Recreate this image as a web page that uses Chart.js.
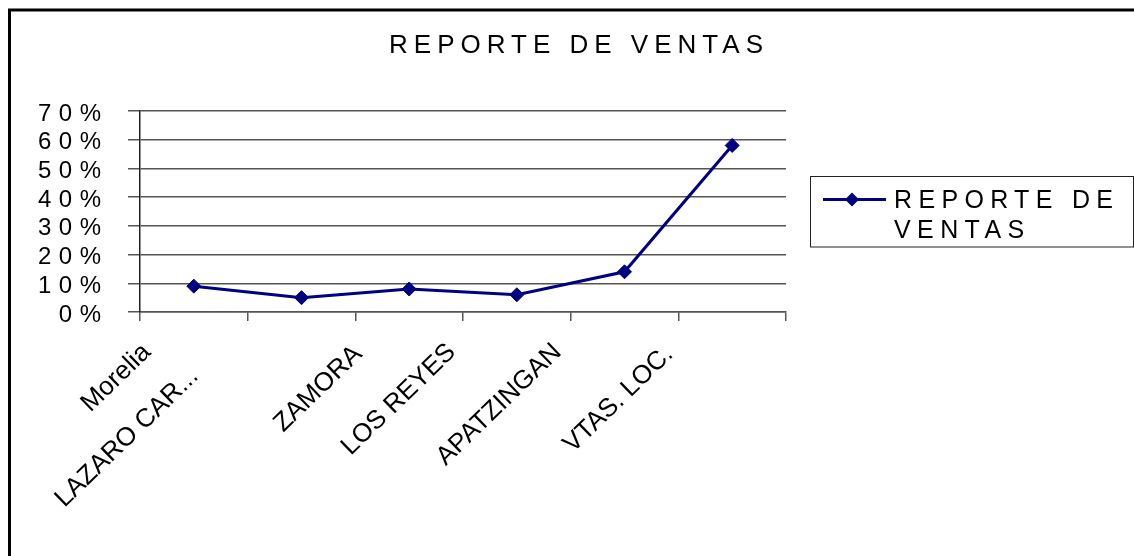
<!DOCTYPE html>
<html>
<head>
<meta charset="utf-8">
<script src="https://cdn.jsdelivr.net/npm/chart.js@4.4.1/dist/chart.umd.min.js"></script>
<style>
  html, body { margin: 0; padding: 0; background: #fff; }
  #wrap { position: relative; width: 1134px; height: 556px; }
</style>
</head>
<body>
<div id="wrap"><canvas id="chart" width="1134" height="556"></canvas></div>
<script>
const chartTitle = "REPORTE DE VENTAS";
const seriesName = "REPORTE DE VENTAS";
const categories = ["Morelia", "LAZARO CAR...", "ZAMORA", "LOS REYES", "APATZINGAN", "VTAS. LOC."];
const sales = [0.09, 0.05, 0.08, 0.06, 0.14, 0.58];
const yMax = 0.7;
const yStep = 0.1;

const FONT = '"Liberation Sans", Arial, sans-serif';
const NAVY = "#000080";

// Excel staggered the category labels a bit; nudge each one from its tick centre
const labelNudge = [[-56, 0], [-116, 24], [-60, 2], [-74, 0], [-76, 0], [-72, 2]];

function spacedText(ctx, text, x, y, width) {

  ctx.letterSpacing = "0px";
  const plain = ctx.measureText(text).width;
  const spacing = (width - plain) / (text.length - 1);
  ctx.letterSpacing = spacing + "px";
  ctx.fillText(text, x, y);
  ctx.letterSpacing = "0px";
}

const decorations = {
  id: "excel-decorations",
  beforeDraw(chart) {

    const ctx = chart.ctx;
    ctx.save();
    ctx.strokeStyle = "#000";
    ctx.lineWidth = 3;
    ctx.strokeRect(9.5, 10, 1200, 600);
    ctx.restore();
    // y tick labels are spaced out like the original
    ctx.letterSpacing = "7.5px";
  },
  afterDraw(chart) {

    const ctx = chart.ctx;
    const x = chart.scales.x;
    ctx.save();
    ctx.fillStyle = "#000";

    // title
    ctx.font = "26px " + FONT;
    ctx.textAlign = "left";
    ctx.textBaseline = "alphabetic";
    spacedText(ctx, chartTitle, 389, 53, 374);

    // category labels
    ctx.font = "26px " + FONT;
    ctx.textAlign = "right";
    ctx.textBaseline = "top";
    categories.forEach((label, i) => {
      const px = x.getPixelForValue(i);
      const [dx, dy] = labelNudge[i];
      ctx.save();
      ctx.translate(px + dx, 339 + dy);
      ctx.rotate(-44 * Math.PI / 180);
      ctx.fillText(label, 0, 0);
      ctx.restore();
    });

    // legend
    ctx.strokeStyle = "#222";
    ctx.lineWidth = 1;
    ctx.strokeRect(810.5, 176.5, 323, 70.5);
    ctx.strokeStyle = NAVY;
    ctx.lineWidth = 3;
    ctx.beginPath();
    ctx.moveTo(823, 199.5);
    ctx.lineTo(886, 199.5);
    ctx.stroke();
    ctx.fillStyle = NAVY;
    Chart.helpers.drawPoint(ctx, { pointStyle: "rectRot", radius: 7, rotation: 0, borderWidth: 0 }, 852, 199.5);
    ctx.fillStyle = "#000";
    ctx.font = "25px " + FONT;
    ctx.textAlign = "left";
    ctx.textBaseline = "alphabetic";
    const words = seriesName.split(" ");
    const first = words.slice(0, -1).join(" ");
    const last = words[words.length - 1];
    spacedText(ctx, first, 894, 208, 219);
    ctx.letterSpacing = "6.4px";
    ctx.fillText(last, 894, 238);
    ctx.letterSpacing = "0px";

    ctx.restore();
  }
};

new Chart(document.getElementById("chart"), {
  type: "line",
  data: {
    labels: categories,
    datasets: [{
      label: seriesName,
      data: sales,
      borderColor: NAVY,
      backgroundColor: NAVY,
      borderWidth: 3,
      pointStyle: "rectRot",
      pointRadius: 7,
      pointBorderWidth: 1,
      tension: 0,
      fill: false
    }]
  },
  options: {
    responsive: false,
    animation: false,
    layout: { padding: { top: 111, left: 0, right: 348, bottom: 0 } },
    plugins: {
      legend: { display: false },
      title: { display: false },
      tooltip: { enabled: false }
    },
    scales: {
      x: {
        type: "category",
        offset: true,
        grid: { offset: true, drawOnChartArea: false, tickLength: 9, color: "#555", lineWidth: 1.5 },
        border: { color: "#555", width: 1.5 },
        ticks: { display: false },
        afterFit(scale) { scale.height = 244; }
      },
      y: {
        min: 0,
        max: yMax,
        grid: { color: "#555", lineWidth: 1.5, tickLength: 12 },
        border: { color: "#222", width: 1.5 },
        ticks: {
          stepSize: yStep,
          autoSkip: false,
          padding: 19.5,
          labelOffset: 3,
          color: "#000",
          font: { family: FONT, size: 24 },
          callback: v => Math.round(v * 100) + "%"
        },
        afterFit(scale) { scale.width = 140; }
      }
    }
  },
  plugins: [decorations]
});
</script>
</body>
</html>
